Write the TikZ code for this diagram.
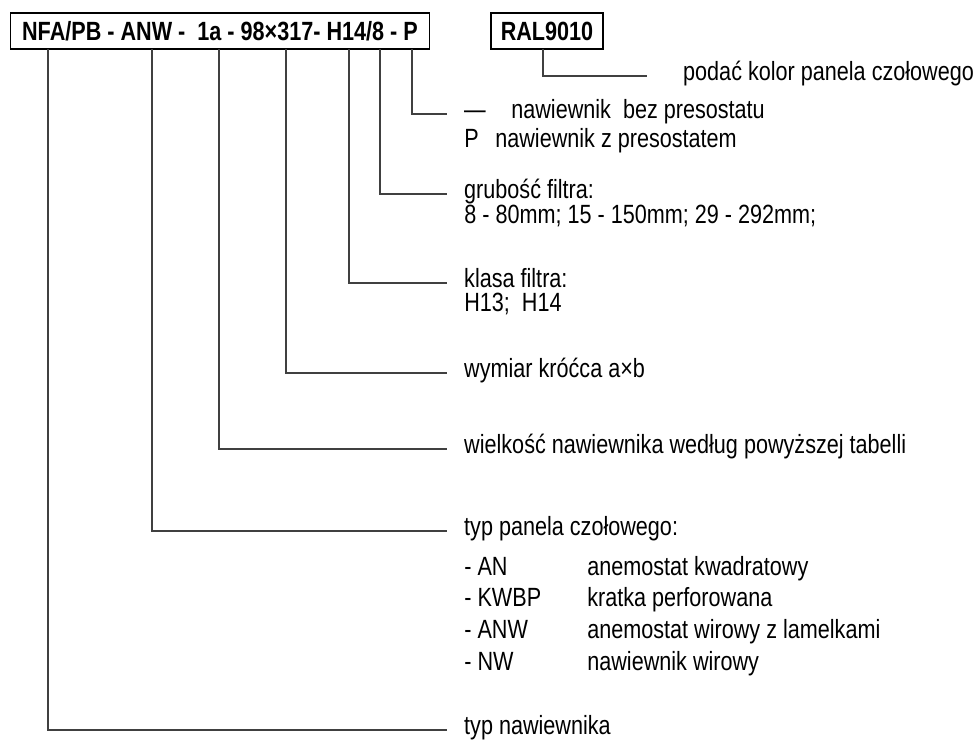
\documentclass[tikz,border=0pt]{standalone}
\usepackage{fontspec}
\setmainfont[FakeStretch=0.82]{Liberation Sans}
\usetikzlibrary{positioning}
\definecolor{leadgray}{RGB}{64, 64, 64}
\newcommand{\descfont}{\fontsize{15pt}{18pt}\selectfont}

\begin{document}
\begin{tikzpicture}[x=0.02cm, y=-0.02cm,
        codebox/.style={draw, line width=0.6pt, inner sep=0pt, minimum height=0.72cm, font=\descfont\bfseries},
        desc/.style={anchor=west, inner xsep=9.6pt, inner ysep=0pt, text height=1.45ex, text depth=0.4ex, font=\descfont},
        plain/.style={anchor=west, inner sep=0pt, text height=1.45ex, text depth=0.4ex, font=\descfont},
        lead/.style={draw=leadgray, line width=0.6pt}
    ]
        \useasboundingbox (0,0) rectangle (978,740);

        % code and colour boxes
        \node[codebox, minimum width=8.4cm] (code) at (220,31) {NFA/PB - ANW -\ \ 1a - 98×317- H14/8 - P};
        \node[codebox, minimum width=2.24cm] (ral) at (547,31) {RAL9010};

        % taps under the boxes
        \coordinate (tType) at (48,49);
        \coordinate (tPanel) at (152,49);
        \coordinate (tSize) at (219,49);
        \coordinate (tDim) at (286,49);
        \coordinate (tClass) at (349,49);
        \coordinate (tThick) at (380,49);
        \coordinate (tPres) at (412,49);
        \coordinate (tRal) at (543,49);

        % descriptions
        \node[desc, inner xsep=20.4pt] (lRal) at (647,76) {podać kolor panela czołowego};
        \node[desc] (lDash) at (447,114) {—};
        \node[plain] (lNoPres) at (511,114) {nawiewnik\ \ bez presostatu};
        \node[plain] (lP) at (464,143) {P};
        \node[plain] (lWithPres) at (495,143) {nawiewnik z presostatem};
        \node[desc] (lThick) at (447,194) {grubość filtra:};
        \node[plain] (lThickVal) at (464,219) {8 - 80mm; 15 - 150mm; 29 - 292mm;};
        \node[desc] (lClass) at (447,283) {klasa filtra:};
        \node[plain] (lClassVal) at (464,307) {H13;\ \ H14};
        \node[desc] (lDim) at (447,373) {wymiar króćca a×b};
        \node[desc] (lSize) at (447,449) {wielkość nawiewnika według powyższej tabelli};
        \node[desc] (lPanel) at (447,531) {typ panela czołowego:};
        \node[plain] (pAN) at (464,571) {- AN};
        \node[plain] (dAN) at (587,571) {anemostat kwadratowy};
        \node[plain] (pKWBP) at (464,602) {- KWBP};
        \node[plain] (dKWBP) at (587,602) {kratka perforowana};
        \node[plain] (pANW) at (464,634) {- ANW};
        \node[plain] (dANW) at (587,634) {anemostat wirowy z lamelkami};
        \node[plain] (pNW) at (464,666) {- NW};
        \node[plain] (dNW) at (587,666) {nawiewnik wirowy};
        \node[desc] (lType) at (447,730) {typ nawiewnika};

        % leaders
        \draw[lead] (tRal) |- (lRal.west);
        \draw[lead] (tPres) |- (lDash.west);
        \draw[lead] (tThick) |- (lThick.west);
        \draw[lead] (tClass) |- (lClass.west);
        \draw[lead] (tDim) |- (lDim.west);
        \draw[lead] (tSize) |- (lSize.west);
        \draw[lead] (tPanel) |- (lPanel.west);
        \draw[lead] (tType) |- (lType.west);
    \end{tikzpicture}
\end{document}
